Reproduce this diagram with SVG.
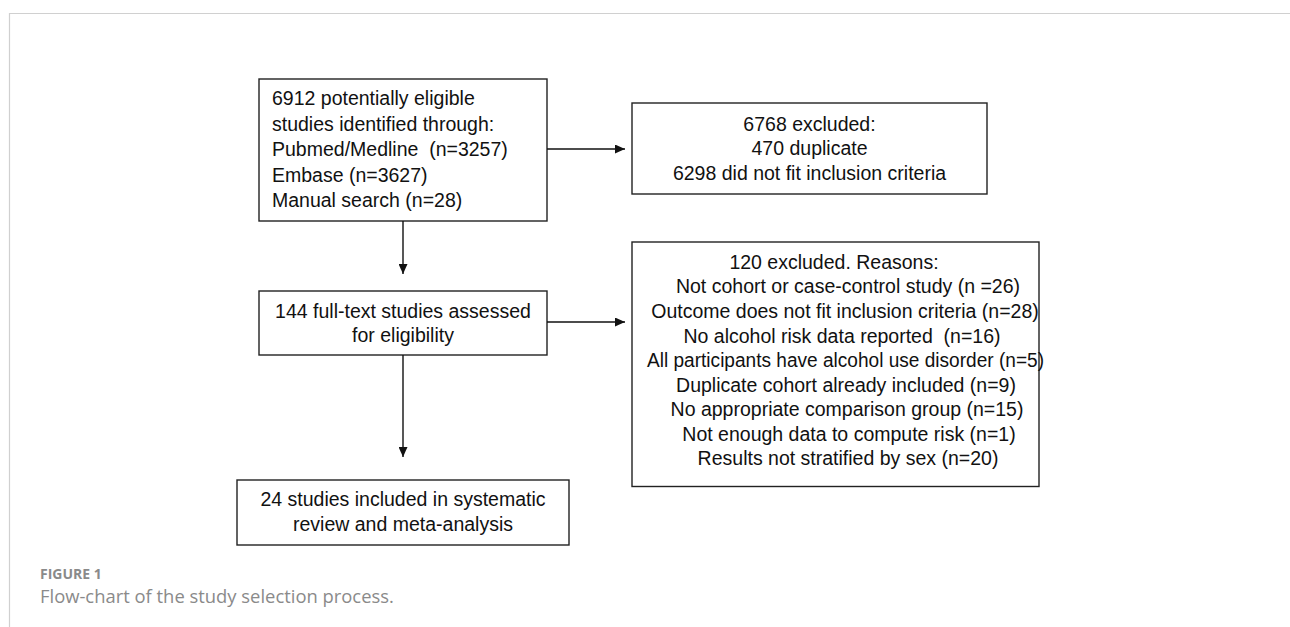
<svg xmlns="http://www.w3.org/2000/svg" width="1290" height="627" viewBox="0 0 1290 627">
  <defs>
    <marker id="ah" markerUnits="userSpaceOnUse" markerWidth="10" markerHeight="9" refX="10" refY="4.5" orient="auto">
      <path d="M0,0 L10,4.5 L0,9 z" fill="#111"/>
    </marker>
    <style>
      .box { fill: #fff; stroke: #222; stroke-width: 1.4; }
      .t { font-family: "Liberation Sans", Arial, sans-serif; font-size: 19.5px; fill: #111; }
      .c { text-anchor: middle; }
      .conn { stroke: #111; stroke-width: 1.4; fill: none; marker-end: url(#ah); }
      .frame { stroke: #d0d0d0; stroke-width: 1.2; fill: none; }
      .cap { font-family: "Open Sans", "Liberation Sans", sans-serif; fill: #8a8a8a; }
    </style>
  </defs>
  <rect width="1290" height="627" fill="#fff"/>
  <path class="frame" d="M9.5,627 L9.5,13.5 L1290,13.5"/>

  <g id="node-identified">
    <rect class="box" x="259" y="79" width="288" height="142"/>
    <text class="t" x="272" y="105">6912 potentially eligible</text>
    <text class="t" x="272" y="130.5">studies identified through:</text>
    <text class="t" x="272" y="156" xml:space="preserve">Pubmed/Medline  (n=3257)</text>
    <text class="t" x="272" y="181.5">Embase (n=3627)</text>
    <text class="t" x="272" y="207">Manual search (n=28)</text>
  </g>

  <g id="node-excluded1">
    <rect class="box" x="632" y="103" width="355" height="91"/>
    <text class="t c" x="809.5" y="130.5">6768 excluded:</text>
    <text class="t c" x="809.5" y="155">470 duplicate</text>
    <text class="t c" x="809.5" y="179.5">6298 did not fit inclusion criteria</text>
  </g>

  <g id="node-fulltext">
    <rect class="box" x="259" y="291" width="288" height="64"/>
    <text class="t c" x="403" y="317.5">144 full-text studies assessed</text>
    <text class="t c" x="403" y="342">for eligibility</text>
  </g>

  <g id="node-excluded2">
    <rect class="box" x="632" y="242" width="407" height="244.5"/>
    <text class="t c" x="834" y="268.5">120 excluded. Reasons:</text>
    <text class="t c" x="848" y="293">Not cohort or case-control study (n =26)</text>
    <text class="t c" x="845" y="318">Outcome does not fit inclusion criteria (n=28)</text>
    <text class="t c" x="842" y="342.5" xml:space="preserve">No alcohol risk data reported  (n=16)</text>
    <text class="t" x="647" y="367" textLength="397" lengthAdjust="spacingAndGlyphs">All participants have alcohol use disorder (n=5)</text>
    <text class="t c" x="846" y="391.5">Duplicate cohort already included (n=9)</text>
    <text class="t c" x="847" y="416">No appropriate comparison group (n=15)</text>
    <text class="t c" x="849" y="440.5">Not enough data to compute risk (n=1)</text>
    <text class="t c" x="848" y="465">Results not stratified by sex (n=20)</text>
  </g>

  <g id="node-included">
    <rect class="box" x="237" y="480" width="332" height="65"/>
    <text class="t c" x="403" y="506">24 studies included in systematic</text>
    <text class="t c" x="403" y="530.5">review and meta-analysis</text>
  </g>

  <g id="connectors">
    <line class="conn" x1="547" y1="149" x2="625" y2="149"/>
    <line class="conn" x1="403" y1="221" x2="403" y2="274"/>
    <line class="conn" x1="547" y1="322" x2="625" y2="322"/>
    <line class="conn" x1="403" y1="355" x2="403" y2="457"/>
  </g>

  <g id="caption">
    <text class="cap" x="40" y="579" font-size="14" font-weight="bold">FIGURE 1</text>
    <text class="cap" x="40" y="603" font-size="18.4">Flow-chart of the study selection process.</text>
  </g>
</svg>
